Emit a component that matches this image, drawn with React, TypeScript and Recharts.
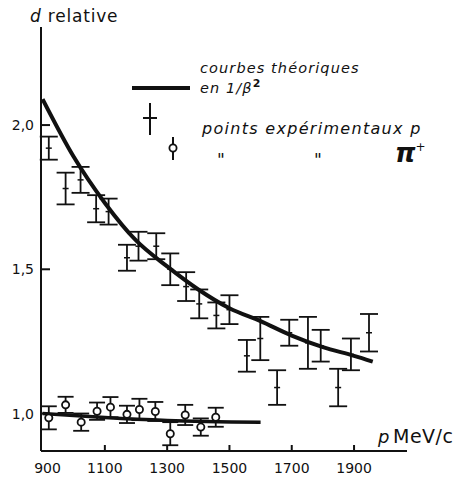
import React from 'react';
import { ComposedChart, Line, Scatter, XAxis, YAxis, ErrorBar } from 'recharts';

// Theoretical 1/beta^2 curve for protons
const protonCurveP = [900, 1000, 1100, 1200, 1300, 1400, 1500, 1600, 1700, 1800, 1900, 1960];
const protonCurveV = [2.09, 1.89, 1.73, 1.6, 1.51, 1.43, 1.365, 1.32, 1.27, 1.23, 1.2, 1.18];

// Theoretical curve for pions
const pionCurveP = [900, 1100, 1300, 1600];
const pionCurveV = [1.0, 0.986, 0.976, 0.97];

// Experimental proton points
const protonP = [920, 974, 1022, 1072, 1112, 1171, 1208, 1265, 1310, 1361, 1403, 1458, 1500, 1556, 1599, 1653, 1692, 1752, 1793, 1849, 1890, 1948];
const protonV = [1.92, 1.78, 1.81, 1.71, 1.7, 1.54, 1.58, 1.58, 1.5, 1.44, 1.38, 1.34, 1.36, 1.2, 1.26, 1.09, 1.28, 1.245, 1.235, 1.09, 1.205, 1.28];
const protonErr = [0.04, 0.055, 0.045, 0.047, 0.045, 0.045, 0.05, 0.045, 0.055, 0.05, 0.05, 0.045, 0.05, 0.055, 0.075, 0.06, 0.045, 0.09, 0.055, 0.065, 0.055, 0.065];

// Experimental pion points
const pionP = [920, 974, 1024, 1075, 1118, 1171, 1211, 1262, 1310, 1358, 1408, 1456];
const pionV = [0.985, 1.03, 0.97, 1.008, 1.022, 0.997, 1.014, 1.007, 0.93, 0.995, 0.953, 0.987];
const pionErr = [0.04, 0.028, 0.03, 0.03, 0.035, 0.03, 0.037, 0.033, 0.04, 0.035, 0.03, 0.033];

const xTicks = [900, 1100, 1300, 1500, 1700, 1900];
const yTicks = [1.0, 1.5, 2.0];
const yTickLabels = ['1,0', '1,5', '2,0'];

const protonCurve = protonCurveP.map((p, i) => ({ p, v: protonCurveV[i] }));
const pionCurve = pionCurveP.map((p, i) => ({ p, v: pionCurveV[i] }));
const protonPts = protonP.map((p, i) => ({ p, v: protonV[i], e: protonErr[i] }));
const pionPts = pionP.map((p, i) => ({ p, v: pionV[i], e: pionErr[i] }));

const INK = '#111';
const FONT = '"DejaVu Sans", sans-serif';

const XTick = (props: any) => {
  const { x, y, payload } = props;
  const dx = payload.value === 900 ? 5 : 0;
  return (
    <g>
      {payload.value !== 900 && <line x1={x} x2={x} y1={y} y2={y - 6} stroke={INK} strokeWidth={2} />}
      <text x={x + dx} y={y + 22} textAnchor="middle" fontSize={14} fontFamily={FONT} fill={INK}>
        {payload.value}
      </text>
    </g>
  );
};

const YTick = (props: any) => {
  const { x, y, payload } = props;
  const idx = yTicks.indexOf(payload.value);
  return (
    <g>
      <line x1={x} x2={x + 9} y1={y} y2={y} stroke={INK} strokeWidth={2} />
      <text x={x - 7} y={y + 5} textAnchor="end" fontSize={14} fontFamily={FONT} fill={INK}>
        {idx >= 0 ? yTickLabels[idx] : payload.value}
      </text>
    </g>
  );
};

const ProtonShape = (props: any) => {
  const { cx, cy } = props;
  return <line x1={cx - 3} x2={cx + 3} y1={cy} y2={cy} stroke={INK} strokeWidth={1.5} />;
};

const PionShape = (props: any) => {
  const { cx, cy } = props;
  return <circle cx={cx} cy={cy} r={3.6} fill="#fff" stroke={INK} strokeWidth={1.8} />;
};

export default function App() {
  return (
    <div style={{ position: 'absolute', left: 0, top: 0, width: 456, height: 483, background: '#fff' }}>
      <ComposedChart width={456} height={483} margin={{ top: 27, right: 49, bottom: 0, left: 0 }}>
        <XAxis
          type="number"
          dataKey="p"
          domain={[895, 2070]}
          allowDataOverflow
          ticks={xTicks}
          tickSize={0}
          tickMargin={0}
          height={32}
          tick={(p: any) => <XTick {...p} />}
          axisLine={{ stroke: INK, strokeWidth: 2 }}
          tickLine={false}
        />
        <YAxis
          type="number"
          domain={[0.87, 2.34]}
          allowDataOverflow
          ticks={yTicks}
          tickSize={0}
          tickMargin={0}
          width={41}
          tick={(p: any) => <YTick {...p} />}
          axisLine={{ stroke: INK, strokeWidth: 2 }}
          tickLine={false}
        />
        <Line data={protonCurve} dataKey="v" type="monotone" stroke={INK} strokeWidth={4} dot={false} activeDot={false} isAnimationActive={false} />
        <Line data={pionCurve} dataKey="v" type="monotone" stroke={INK} strokeWidth={3.5} dot={false} activeDot={false} isAnimationActive={false} />
        <Scatter data={protonPts} dataKey="v" shape={(p: any) => <ProtonShape {...p} />} isAnimationActive={false}>
          <ErrorBar dataKey="e" direction="y" width={9} stroke={INK} strokeWidth={1.8} />
        </Scatter>
        <Scatter data={pionPts} dataKey="v" shape={(p: any) => <PionShape {...p} />} isAnimationActive={false}>
          <ErrorBar dataKey="e" direction="y" width={8} stroke={INK} strokeWidth={1.8} />
        </Scatter>
      </ComposedChart>
      <svg width={456} height={483} style={{ position: 'absolute', left: 0, top: 0, pointerEvents: 'none' }}>
        <text x={30} y={22} fontSize={17} letterSpacing={0.8} fontFamily={FONT} fill={INK}>
          <tspan fontStyle="italic">d</tspan> relative
        </text>
        <line x1={132} x2={190} y1={88} y2={88} stroke={INK} strokeWidth={4} />
        <text x={200} y={73} fontSize={14.5} letterSpacing={1.1} fontStyle="italic" fontFamily={FONT} fill={INK}>courbes théoriques</text>
        <text x={200} y={93} fontSize={14.5} letterSpacing={1.1} fontStyle="italic" fontFamily={FONT} fill={INK}>
          en 1/β<tspan fontSize={11} dy={-6} fontStyle="normal" fontWeight="bold">2</tspan>
        </text>
        <line x1={150} x2={150} y1={103} y2={135} stroke={INK} strokeWidth={2} />
        <line x1={143} x2={157} y1={118} y2={118} stroke={INK} strokeWidth={2} />
        <text x={202} y={134} fontSize={16} letterSpacing={1.3} fontStyle="italic" fontFamily={FONT} fill={INK}>points expérimentaux p</text>
        <line x1={173} x2={173} y1={137} y2={160} stroke={INK} strokeWidth={2} />
        <circle cx={173} cy={148} r={3.6} fill="#fff" stroke={INK} strokeWidth={1.8} />
        <text x={217} y={166} fontSize={17} fontStyle="italic" fontFamily={FONT} fill={INK}>"</text>
        <text x={314} y={166} fontSize={17} fontStyle="italic" fontFamily={FONT} fill={INK}>"</text>
        <text x={395} y={162} fontSize={26} fontStyle="italic" fontWeight="bold" fontFamily={FONT} fill={INK}>
          π<tspan fontSize={12} dy={-11} fontWeight="normal">+</tspan>
        </text>
        <text x={378} y={443} fontSize={18} fontStyle="italic" fontFamily={FONT} fill={INK}>p</text>
        <text x={393} y={443} fontSize={19} letterSpacing={0.5} fontFamily={FONT} fill={INK}>MeV/c</text>
      </svg>
    </div>
  );
}
